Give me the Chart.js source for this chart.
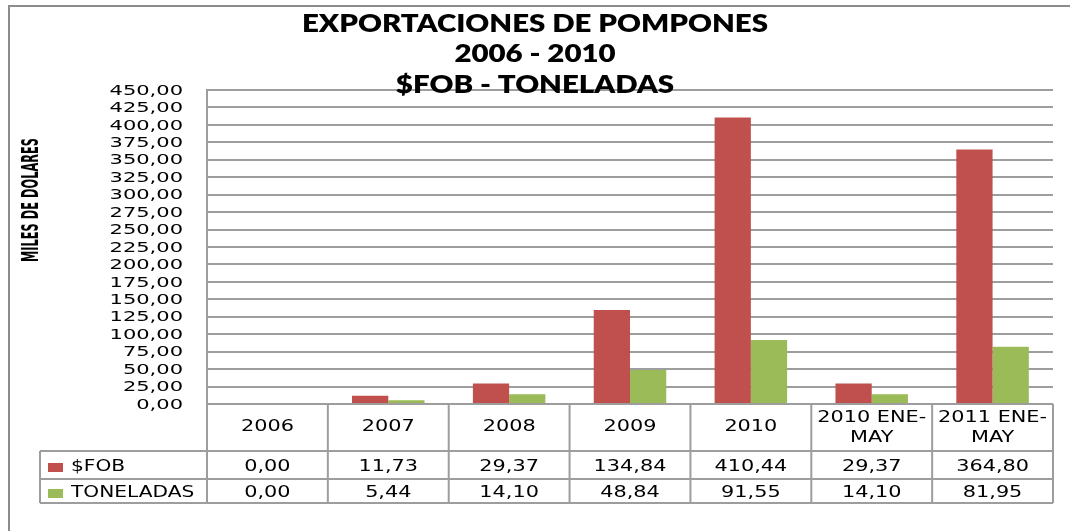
<!DOCTYPE html>
<html>
<head>
<meta charset="utf-8">
<script src="https://cdn.jsdelivr.net/npm/chart.js@4"></script>
<style>
  body { margin: 0; background: #fff; }
  #wrap { width: 1070px; height: 531px; }
</style>
</head>
<body>
<div id="wrap"><canvas id="myChart"></canvas></div>
<script>
const categories = ['2006', '2007', '2008', '2009', '2010', ['2010 ENE-', 'MAY'], ['2011 ENE-', 'MAY']];
const fob = [0.00, 11.73, 29.37, 134.84, 410.44, 29.37, 364.80];
const toneladas = [0.00, 5.44, 14.10, 48.84, 91.55, 14.10, 81.95];
const titleLines = ['EXPORTACIONES DE POMPONES', '2006 - 2010', '$FOB - TONELADAS'];
const yTitle = 'MILES DE DOLARES';

const RED = '#C0504D';
const GREEN = '#9BBB59';
const LINE = '#9d9d9d';

function fmt(v) {
  return v.toFixed(2).replace('.', ',');
}

// text stretched horizontally, like the original picture
function txt(ctx, s, x, y, sx, align) {
  ctx.save();
  ctx.translate(x, y);
  ctx.scale(sx, 1);
  ctx.textAlign = align;
  ctx.textBaseline = 'middle';
  ctx.fillText(s, 0, 0);
  ctx.restore();
}

function hline(ctx, x1, x2, y) {
  ctx.beginPath(); ctx.moveTo(x1, y); ctx.lineTo(x2, y); ctx.stroke();
}
function vline(ctx, x, y1, y2) {
  ctx.beginPath(); ctx.moveTo(x, y1); ctx.lineTo(x, y2); ctx.stroke();
}

const extras = {
  id: 'extras',
  beforeDraw(chart) {
    const ctx = chart.ctx;
    ctx.save();
    ctx.fillStyle = '#fff';
    ctx.fillRect(0, 0, chart.width, chart.height);
    ctx.strokeStyle = '#8c8c8c';
    ctx.lineWidth = 2;
    ctx.strokeRect(9, 6, 1200, 700);
    ctx.restore();
  },
  afterDraw(chart) {
    const ctx = chart.ctx;
    const ca = chart.chartArea;
    const xs = chart.scales.x;
    const ys = chart.scales.y;
    ctx.save();
    ctx.fillStyle = '#000';

    // title
    ctx.font = '800 25px Lato';
    const sxT = 466 / ctx.measureText(titleLines[0]).width;
    const ty = [24, 54, 85];
    titleLines.forEach((t, i) => txt(ctx, t, chart.width / 2, ty[i], sxT, 'center'));

    // y axis title
    ctx.font = 'bold 12px "DejaVu Sans"';
    const along = 124 / ctx.measureText(yTitle).width;
    ctx.save();
    ctx.translate(32, 200);
    ctx.rotate(-Math.PI / 2);
    ctx.scale(along, 1.9);
    ctx.textAlign = 'center';
    ctx.textBaseline = 'middle';
    ctx.fillText(yTitle, 0, 0);
    ctx.restore();

    // y tick labels
    ctx.font = '14px "DejaVu Sans"';
    ys.ticks.forEach(t => {
      txt(ctx, fmt(t.value), 183, ys.getPixelForValue(t.value) + 1, 1.5, 'right');
    });

    // data table
    const n = categories.length;
    const w = (ca.right - ca.left) / n;
    const r1 = ca.bottom + 47, r2 = ca.bottom + 75, r3 = ca.bottom + 99;
    ctx.strokeStyle = LINE;
    ctx.lineWidth = 2;
    for (let i = 0; i <= n; i++) vline(ctx, ca.left + i * w, ca.bottom, r3);
    vline(ctx, 40, r1, r3);
    hline(ctx, 40, ca.right, r1);
    hline(ctx, 40, ca.right, r2);
    hline(ctx, 40, ca.right, r3);

    ctx.font = '16px "DejaVu Sans"';
    ctx.fillStyle = '#000';
    categories.forEach((c, i) => {
      const cx = xs.getPixelForValue(i);
      if (Array.isArray(c)) {
        txt(ctx, c[0], cx, ca.bottom + 14, 1.3, 'center');
        txt(ctx, c[1], cx, ca.bottom + 34, 1.3, 'center');
      } else {
        txt(ctx, c, cx, ca.bottom + 23, 1.3, 'center');
      }
      txt(ctx, fmt(fob[i]), cx, ca.bottom + 63, 1.3, 'center');
      txt(ctx, fmt(toneladas[i]), cx, ca.bottom + 89, 1.3, 'center');
    });

    // legend keys
    const rows = [[chart.data.datasets[0], ca.bottom + 63], [chart.data.datasets[1], ca.bottom + 89]];
    rows.forEach(([ds, y]) => {
      ctx.fillStyle = ds.backgroundColor;
      ctx.fillRect(48, y - 4, 15, 9);
      ctx.fillStyle = '#000';
      txt(ctx, ds.label, 71, y, 1.26, 'left');
    });
    ctx.restore();
  }
};

const ctx = document.getElementById('myChart');

const myChart = new Chart(ctx, {
  type: 'bar',
  data: {
    labels: categories,
    datasets: [{
      label: '$FOB',
      data: fob,
      backgroundColor: RED,
      categoryPercentage: 0.6,
      barPercentage: 1
    }, {
      label: 'TONELADAS',
      data: toneladas,
      backgroundColor: GREEN,
      categoryPercentage: 0.6,
      barPercentage: 1
    }]
  },
  options: {
    responsive: true,
    maintainAspectRatio: false,
    animation: false,
    layout: {
      padding: { left: 207, right: 17, top: 90, bottom: 127 }
    },
    plugins: {
      legend: { display: false },
      title: { display: false },
      tooltip: { enabled: false }
    },
    scales: {
      x: { display: false },
      y: {
        min: 0,
        max: 450,
        ticks: { stepSize: 25, display: false },
        grid: { color: LINE, lineWidth: 2, drawTicks: false },
        border: { display: true, color: LINE, width: 2 }
      }
    }
  },
  plugins: [extras]
});
</script>
</body>
</html>
